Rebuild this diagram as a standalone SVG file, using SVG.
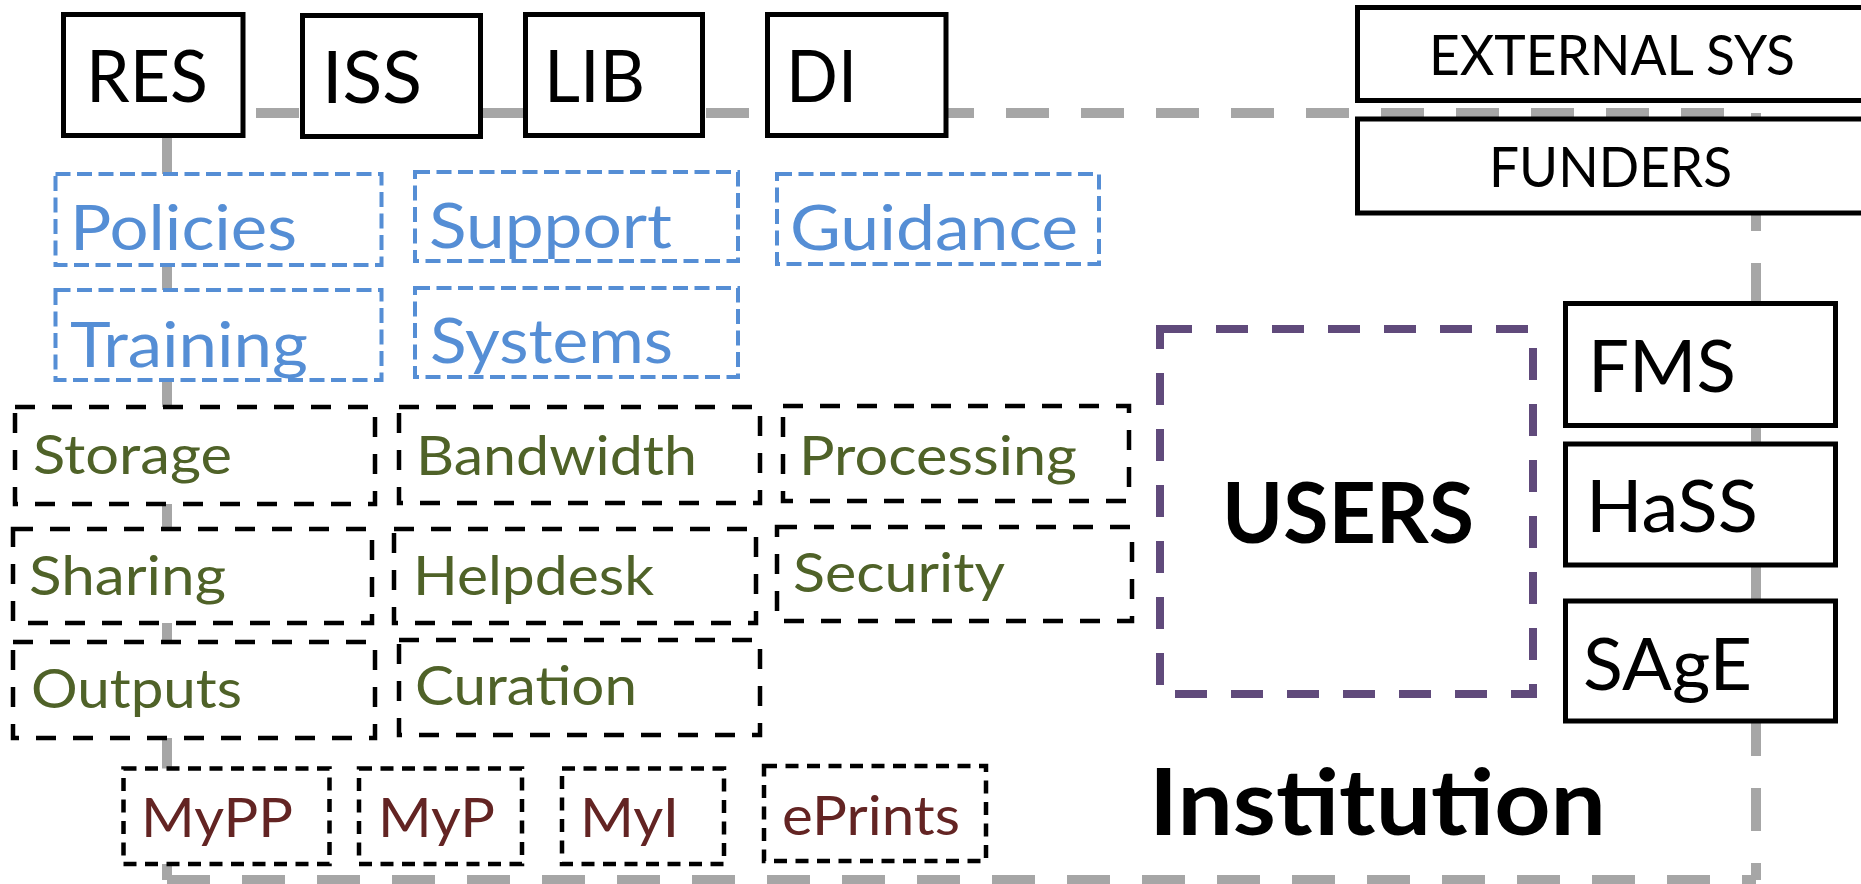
<svg xmlns="http://www.w3.org/2000/svg" width="1861" height="884" viewBox="0 0 1861 884">
<style>
text{font-family:Lato,"Open Sans","Liberation Sans",sans-serif}
.solid{fill:#fff;stroke:#000;stroke-width:5}
.blue{fill:#fff;stroke:#558ed5;stroke-width:4;stroke-dasharray:15 6.5}
.blk{fill:#fff;stroke:#000;stroke-width:4.5;stroke-dasharray:20 17}
.sm{fill:#fff;stroke:#000;stroke-width:4.5;stroke-dasharray:13 8.5}
.usr{fill:#fff;stroke:#604a7b;stroke-width:8;stroke-dasharray:32 24}
.conn{fill:none;stroke:#a6a6a6;stroke-width:10}
.dash{stroke-dasharray:43 32}
.tb{font-size:72px;fill:#000}
.te{font-size:56px;fill:#000}
.tbl{font-size:62px;fill:#558ed5}
.tg{font-size:54px;fill:#4f6228}
.tm{font-size:55px;fill:#632423}
.bold{font-weight:bold;fill:#000}
</style>
<rect width="1861" height="884" fill="#fff"/>
<g id="connectors">
<path class="conn" d="M167,113 V880"/>
<path class="conn dash" d="M1756,113 H167" stroke-dashoffset="43"/>
<path class="conn dash" d="M1756,113 V880"/>
<path class="conn dash" d="M167,880 H1756"/>
</g>
<g id="RES"><rect class="solid" x="63.5" y="14.5" width="179.5" height="121"/><text class="tb" x="86" y="102" textLength="122" lengthAdjust="spacingAndGlyphs">RES</text></g>
<g id="ISS"><rect class="solid" x="302.5" y="15.5" width="178" height="121"/><text class="tb" x="322" y="103" textLength="100" lengthAdjust="spacingAndGlyphs">ISS</text></g>
<g id="LIB"><rect class="solid" x="525.5" y="14.5" width="177" height="121"/><text class="tb" x="544" y="102" textLength="101" lengthAdjust="spacingAndGlyphs">LIB</text></g>
<g id="DI"><rect class="solid" x="767.5" y="14.5" width="178.5" height="121"/><text class="tb" x="786" y="102" textLength="71" lengthAdjust="spacingAndGlyphs">DI</text></g>
<g id="EXTERNAL_SYS"><rect class="solid" x="1357.5" y="7.5" width="520" height="93"/><text class="te" x="1429" y="75" textLength="366" lengthAdjust="spacingAndGlyphs">EXTERNAL SYS</text></g>
<g id="FUNDERS"><rect class="solid" x="1357.5" y="119" width="520" height="94"/><text class="te" x="1489" y="187" textLength="243" lengthAdjust="spacingAndGlyphs">FUNDERS</text></g>
<g id="FMS"><rect class="solid" x="1565.5" y="303.5" width="270" height="122"/><text class="tb" x="1588" y="392" textLength="148" lengthAdjust="spacingAndGlyphs">FMS</text></g>
<g id="HaSS"><rect class="solid" x="1565.5" y="444" width="270" height="121"/><text class="tb" x="1586" y="532" textLength="172" lengthAdjust="spacingAndGlyphs">HaSS</text></g>
<g id="SAgE"><rect class="solid" x="1565.5" y="601" width="270" height="120"/><text class="tb" x="1583" y="690" textLength="169" lengthAdjust="spacingAndGlyphs">SAgE</text></g>
<g id="Policies"><rect class="blue" x="55.5" y="174" width="326" height="91"/><text class="tbl" x="70" y="250" textLength="227" lengthAdjust="spacingAndGlyphs">Policies</text></g>
<g id="Support"><rect class="blue" x="415" y="172" width="323" height="89"/><text class="tbl" x="429" y="248" textLength="243" lengthAdjust="spacingAndGlyphs">Support</text></g>
<g id="Guidance"><rect class="blue" x="777" y="174" width="322" height="90"/><text class="tbl" x="790" y="250" textLength="288" lengthAdjust="spacingAndGlyphs">Guidance</text></g>
<g id="Training"><rect class="blue" x="55.5" y="290" width="326" height="90"/><text class="tbl" x="70" y="367" textLength="238" lengthAdjust="spacingAndGlyphs">Training</text></g>
<g id="Systems"><rect class="blue" x="415" y="288" width="323" height="89"/><text class="tbl" x="430" y="363" textLength="243" lengthAdjust="spacingAndGlyphs">Systems</text></g>
<g id="Storage"><rect class="blk" x="15" y="407" width="360" height="97"/><text class="tg" x="33" y="474" textLength="199" lengthAdjust="spacingAndGlyphs">Storage</text></g>
<g id="Bandwidth"><rect class="blk" x="399" y="407" width="361" height="96"/><text class="tg" x="416" y="475" textLength="281" lengthAdjust="spacingAndGlyphs">Bandwidth</text></g>
<g id="Processing"><rect class="blk" x="783" y="406" width="346" height="95"/><text class="tg" x="799" y="475" textLength="278" lengthAdjust="spacingAndGlyphs">Processing</text></g>
<g id="Sharing"><rect class="blk" x="13" y="529" width="359" height="94"/><text class="tg" x="29" y="595" textLength="197" lengthAdjust="spacingAndGlyphs">Sharing</text></g>
<g id="Helpdesk"><rect class="blk" x="394" y="529" width="362" height="94"/><text class="tg" x="413" y="595" textLength="241" lengthAdjust="spacingAndGlyphs">Helpdesk</text></g>
<g id="Security"><rect class="blk" x="777" y="527" width="355" height="94"/><text class="tg" x="793" y="592" textLength="212" lengthAdjust="spacingAndGlyphs">Security</text></g>
<g id="Outputs"><rect class="blk" x="13" y="642" width="362" height="96"/><text class="tg" x="31" y="708" textLength="211" lengthAdjust="spacingAndGlyphs">Outputs</text></g>
<g id="Curation"><rect class="blk" x="399" y="640" width="361" height="95"/><text class="tg" x="415" y="705" textLength="222" lengthAdjust="spacingAndGlyphs">Curation</text></g>
<g id="MyPP"><rect class="sm" x="123.5" y="768.5" width="206" height="95.5"/><text class="tm" x="141" y="837" textLength="152" lengthAdjust="spacingAndGlyphs">MyPP</text></g>
<g id="MyP"><rect class="sm" x="359" y="768.5" width="163" height="95.5"/><text class="tm" x="378" y="837" textLength="117" lengthAdjust="spacingAndGlyphs">MyP</text></g>
<g id="MyI"><rect class="sm" x="562" y="768.5" width="162" height="95.5"/><text class="tm" x="580" y="837" textLength="99" lengthAdjust="spacingAndGlyphs">MyI</text></g>
<g id="ePrints"><rect class="sm" x="764" y="766" width="222" height="95"/><text class="tm" x="782" y="835" textLength="178" lengthAdjust="spacingAndGlyphs">ePrints</text></g>
<g id="USERS"><rect class="usr" x="1160" y="329" width="373" height="365"/><text class="bold" x="1222" y="543" font-size="84" textLength="252" lengthAdjust="spacingAndGlyphs">USERS</text></g>
<g id="Institution"><text class="bold" x="1149" y="835" font-size="91" textLength="457" lengthAdjust="spacingAndGlyphs">Institution</text></g>
</svg>
